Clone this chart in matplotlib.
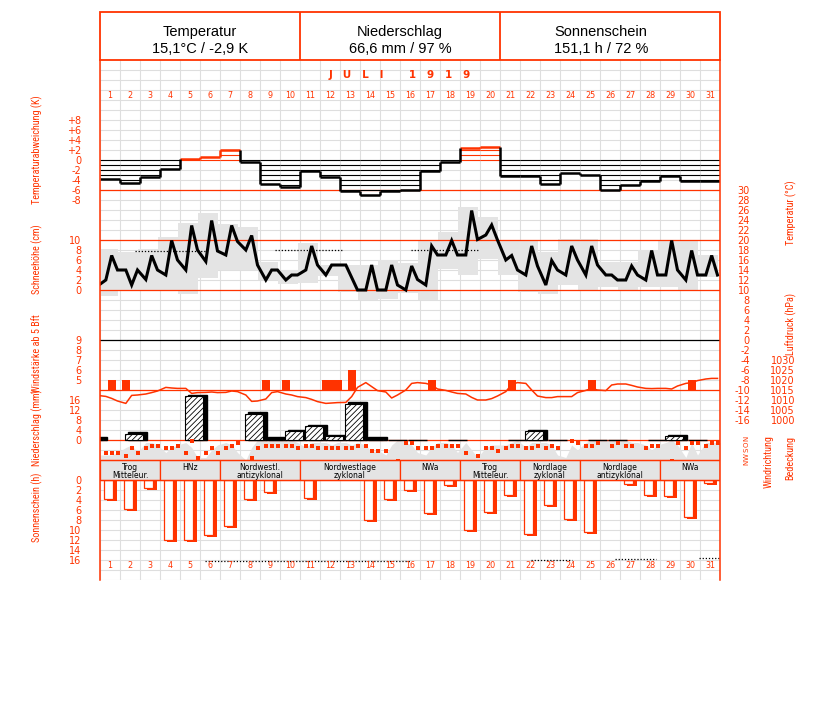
"""Monthly weather sheet for July 1919 (temperature, pressure, rain, sunshine)."""

import matplotlib

matplotlib.use("Agg")
import matplotlib.pyplot as plt
import numpy as np
from matplotlib import font_manager

# --- data ------------------------------------------------------------------
DAYS = np.arange(1, 32)
OBS_HOURS = np.array([7, 14, 21])

HEADER_TITLES = ["Temperatur", "Niederschlag", "Sonnenschein"]
HEADER_VALUES = ["15,1°C / -2,9 K", "66,6 mm / 97 %", "151,1 h / 72 %"]

# daily temperature anomaly (K)
TEMP_ANOMALY = [-3.7, -4.5, -3.3, -1.7, 0.3, 0.7, 2.0, -0.4, -4.7, -5.3,
                -2.1, -3.3, -6.1, -7.0, -6.2, -6.0, -2.1, -0.4, 2.5, 2.7,
                -3.2, -3.2, -4.7, -2.5, -2.9, -5.9, -5.0, -4.1, -3.1, -4.1,
                -4.2]

# air temperature at 7, 14 and 21 h (°C); the first value is 30 June, 21 h
TEMP_PREV_EVENING = 10.8
TEMP_OBS = [12.0, 16.9, 14.0,  14.0, 11.0, 14.0,  12.1, 16.9, 14.0,
            13.0, 19.9, 16.0,  14.0, 22.9, 18.0,  15.7, 23.9, 17.8,
            17.0, 22.9, 19.7,  18.0, 20.9, 15.0,  12.0, 14.0, 14.0,
            12.0, 13.0, 13.0,  14.0, 18.8, 15.0,  13.0, 15.0, 15.0,
            15.0, 12.5, 10.0,  10.0, 15.0, 10.0,  10.0, 15.0, 11.0,
            10.0, 14.8, 12.1,  11.0, 18.8, 17.0,  17.0, 19.9, 17.0,
            17.0, 25.9, 20.1,  21.0, 23.0, 20.0,  16.0, 16.9, 14.0,
            13.0, 18.8, 14.8,  11.0, 15.9, 14.0,  13.0, 18.8, 16.0,
            13.0, 18.8, 15.0,  13.0, 13.0, 12.0,  12.0, 14.8, 13.0,
            12.0, 17.9, 13.0,  13.0, 19.9, 14.0,  12.0, 17.9, 13.0,
            13.0, 16.9, 13.0]
TEMP_MAX = [18.3, 17.7, 18.3, 20.7, 23.5, 25.5, 23.3, 22.7, 15.7, 14.0,
            19.5, 15.0, 15.0, 15.0, 16.0, 15.5, 20.0, 21.7, 26.7, 24.7,
            20.0, 20.0, 17.7, 20.3, 20.3, 15.7, 15.7, 18.0, 20.0, 20.0,
            17.0]
TEMP_MIN = [8.8, 10.0, 10.0, 10.0, 9.2, 12.5, 14.0, 14.0, 12.0, 11.2,
            11.5, 12.8, 9.7, 8.1, 8.3, 9.5, 8.0, 14.3, 13.0, 16.3,
            13.0, 9.7, 9.3, 11.0, 10.0, 10.7, 10.0, 10.7, 10.7, 10.0,
            12.7]
TEMP_DOTTED_START = [1.75, 8.75, 15.53]
TEMP_DOTTED_END = [5.25, 12.17, 18.92]
TEMP_DOTTED_VALUE = [17.8, 18.0, 18.1]

# air pressure at 7, 14 and 21 h (hPa)
PRESSURE_PREV_EVENING = 1012.3
PRESSURE = [1011.8, 1010.8, 1009.5,  1008.3, 1012.3, 1012.5,
            1013.0, 1013.7, 1014.5,  1016.3, 1016.0, 1015.8,
            1015.8, 1013.3, 1013.7,  1013.8, 1014.0, 1013.7,
            1013.8, 1014.5, 1014.2,  1012.5, 1009.3, 1009.5,
            1010.5, 1013.7, 1014.2,  1013.0, 1012.5, 1011.7,
            1011.2, 1010.3, 1009.2,  1008.3, 1008.5, 1008.7,
            1008.8, 1011.7, 1016.3,  1018.7, 1016.7, 1014.7,
            1014.0, 1011.0, 1012.5,  1015.0, 1018.3, 1018.7,
            1018.3, 1017.5, 1015.5,  1014.8, 1014.0, 1013.3,
            1013.0, 1011.3, 1010.0,  1010.0, 1010.7, 1012.0,
            1014.2, 1017.8, 1018.7,  1018.3, 1015.0, 1012.0,
            1011.2, 1011.2, 1011.7,  1011.7, 1011.7, 1013.7,
            1014.8, 1015.8, 1015.0,  1014.7, 1017.5, 1018.0,
            1018.0, 1017.3, 1016.5,  1015.8, 1015.7, 1015.8,
            1015.8, 1015.5, 1017.0,  1018.3, 1018.7, 1019.7,
            1020.5, 1020.8, 1020.8]

# wind force of 5 Bft and more (day, observation index, Bft)
WIND_DAY = [1, 2, 9, 10, 12, 12, 12, 13, 17, 21, 25, 30]
WIND_OBS = [1, 0, 0, 0, 0, 1, 2, 1, 1, 1, 1, 1]
WIND_BFT = [5, 5, 5, 5, 5, 5, 5, 6, 5, 5, 5, 5]

# precipitation (mm), index 0 is 30 June
PRECIP_DAY = np.arange(0, 32)
PRECIP = [1.0, 0, 3.1, 0, 0, 18.0, 0, 0, 11.0, 1.1, 4.0, 6.0, 2.0, 15.0,
          1.1, 0.1, 0.1, 0, 0.1, 0, 0, 0.1, 4.0, 0.1, 0, 0.1, 0.1, 0, 0.1,
          2.0, 0.1, 0]

# wind direction (degrees) and cloud cover (octas) at 7, 14 and 21 h
nan = np.nan
WIND_DIR = [220, 220, 220,  270, 145, 220,  145, 120, 120,  145, 145, 120,
            220, 45, 305,  220, 145, 220,  145, 120, 70,  nan, 295, 145,
            120, 120, 120,  120, 120, 145,  120, 120, 145,  145, 145, 145,
            145, 145, 120,  120, 195, 195,  195, nan, 345,  70, 70, 145,
            145, 145, 120,  120, 120, 120,  220, nan, 270,  145, 145, 195,
            145, 120, 120,  145, 145, 120,  145, 120, 145,  nan, 45, 70,
            120, 120, 70,  nan, 120, 70,  120, 120, nan,  145, 120, 120,
            nan, 345, 70,  145, 70, 70,  120, 70, 70]
CLOUDS = [2, 2, 3,  5, 6, 3,  7, 7, 6,  3, 5, 6,  7, 5, 1,  1, 4, 6,
          7, 6, 3,  0, 5, 8,  8, 8, 8,  8, 8, 7,  5, 7, 7,  7, 6, 7,
          7, 6, 7,  6, 3, 4,  2, 6, 8,  7, 6, 3,  2, 5, 7,  7, 6, 3,
          7, 4, 1,  5, 6, 6,  6, 7, 8,  5, 7, 7,  7, 6, 2,  1, 6, 4,
          7, 8, 8,  8, 8, 8,  8, 7, 7,  6, 4, 6,  7, 8, 6,  1, 7, 2,
          7, 7, 7]

# sunshine duration (h)
SUNSHINE = [3.7, 5.7, 1.5, 12.0, 11.9, 11.0, 9.1, 3.7, 2.3, 0, 3.5, 0, 0,
            8.0, 3.7, 2.0, 6.5, 1.0, 10.0, 6.3, 3.0, 10.7, 5.0, 7.7, 10.4,
            0, 0.8, 3.0, 3.2, 7.3, 0.5]
SUN_DOTTED_START = [5.25, 21.55, 25.75, 29.95]
SUN_DOTTED_END = [15.5, 23.6, 27.8, 31.0]
SUN_DOTTED_VALUE = [16.2, 16.0, 15.8, 15.5]

WEATHER_LABELS = ["Trog\nMitteleur.", "HNz", "Nordwestl.\nantizyklonal",
                  "Nordwestlage\nzyklonal", "NWa", "Trog\nMitteleur.",
                  "Nordlage\nzyklonal", "Nordlage\nantizyklonal", "NWa"]
WEATHER_FIRST = [1, 4, 7, 11, 16, 19, 22, 25, 29]
WEATHER_LAST = [3, 6, 10, 15, 18, 21, 24, 28, 31]

# --- layout ---------------------------------------------------------------
W, H = 827, 702
LEFT, RIGHT, TOP, BOTTOM = 100, 720, 60, 580
RED = "#ff3300"
GRID = "#dedede"
SHADE = "#e4e4e4"


def narrow_font():
    """A condensed face for the axis titles, or a smaller plain one."""
    for name in ("Liberation Sans Narrow", "Roboto Condensed",
                 "Open Sans Condensed"):
        try:
            font_manager.findfont(name, fallback_to_default=False)
            return name, 7.3
        except ValueError:
            pass
    return "DejaVu Sans", 5.6


def overlay(fig, row, value, px_per_unit):
    """Transparent axes over the plot frame with `value` on pixel row `row`."""
    ax = fig.add_axes([LEFT / W, 1 - BOTTOM / H,
                       (RIGHT - LEFT) / W, (BOTTOM - TOP) / H])
    ax.set_xlim(0, 31)
    ax.set_ylim(value - (BOTTOM - row) / px_per_unit,
                value + (row - TOP) / px_per_unit)
    ax.patch.set_visible(False)
    for spine in ax.spines.values():
        spine.set_visible(False)
    ax.set_xticks([])
    ax.set_yticks([])
    return ax


def label_axis(ax, values, labels, side="left", pad=13.5, size=7, **kw):
    """Red tick labels without tick marks."""
    ax.set_yticks(values, labels)
    ax.tick_params(axis="y", length=0, labelsize=size, labelcolor=RED,
                   pad=pad, left=False, right=False,
                   labelleft=side == "left", labelright=side == "right", **kw)
    if side == "right" and "labelrotation" not in kw:
        for tick in ax.yaxis.get_major_ticks():
            tick.label2.set_horizontalalignment("right")


def main():
    plt.rcParams["hatch.linewidth"] = 0.6
    fig = plt.figure(figsize=(W / 100, H / 100), dpi=100)
    obs_x = ((DAYS[:, None] - 1) + OBS_HOURS[None, :] / 24).ravel()
    prev_x = -1 + OBS_HOURS[-1] / 24
    title_font, title_size = narrow_font()

    # header and axis titles, drawn above everything else
    canvas = fig.add_axes([0, 0, 1, 1])
    canvas.set_zorder(10)
    canvas.set_xlim(0, W)
    canvas.set_ylim(H, 0)
    canvas.axis("off")
    canvas.add_patch(plt.Rectangle((LEFT, 12), RIGHT - LEFT, TOP - 12,
                                   fill=False, ec=RED, lw=1.3))
    canvas.vlines([300, 500], 12, TOP, color=RED, lw=1.3)
    for cx, title, value in zip([200, 400, 601], HEADER_TITLES, HEADER_VALUES):
        canvas.text(cx, 32, title, ha="center", va="center", fontsize=10.5,
                    family="Liberation Sans")
        canvas.text(cx, 49, value, ha="center", va="center", fontsize=10.5,
                    family="Liberation Sans")
    canvas.text(400, 75, "J   U   L   I       1   9   1   9",
                ha="center", va="center", color=RED, fontsize=7.5,
                fontweight="bold")
    for y, text in [(150, "Temperaturabweichung (K)"), (259, "Schneehöhe (cm)"),
                    (354, "Windstärke ab 5 Bft"), (428, "Niederschlag (mm)"),
                    (507, "Sonnenschein (h)")]:
        canvas.text(37, y, text, rotation=90, ha="center", va="center",
                    color=RED, fontsize=title_size, family=title_font)
    for x, y, text in [(791, 213, "Temperatur (°C)"),
                       (791, 324, "Luftdruck (hPa)"),
                       (769, 462, "Windrichtung"), (790, 458, "Bedeckung")]:
        canvas.text(x, y, text, rotation=90, ha="center", va="center",
                    color=RED, fontsize=title_size, family=title_font)

    # background grid (pixel rows)
    base = overlay(fig, 0, 0, -1)
    base.vlines(np.arange(0, 32), TOP, BOTTOM, color=GRID, lw=0.8)
    base.hlines(np.arange(TOP + 10, BOTTOM + 1, 10), 0, 31, color=GRID, lw=0.8)

    # air temperature
    temp = overlay(fig, 290, 10, 5)
    temp.bar(DAYS - 1.125, np.subtract(TEMP_MAX, TEMP_MIN), bottom=TEMP_MIN,
             width=1, align="edge", color=SHADE, lw=0, zorder=1)
    temp.axhline(30, color=RED, lw=0.9, zorder=2)
    temp.axhline(20, color=RED, lw=0.9, zorder=2)
    temp.axhline(10, color=RED, lw=0.9, zorder=2)
    temp.axhline(0, color="black", lw=0.9, zorder=2)
    temp.hlines(TEMP_DOTTED_VALUE, TEMP_DOTTED_START, TEMP_DOTTED_END,
                color="black", lw=0.9, linestyles=(0, (1, 1.5)), zorder=3)
    temp.plot(np.r_[prev_x, obs_x], np.r_[TEMP_PREV_EVENING, TEMP_OBS],
              color="black", lw=2.2, zorder=4, solid_joinstyle="miter")
    label_axis(temp, np.arange(30, -17, -2),
               [str(v) for v in range(30, -17, -2)], side="right", pad=21.6)

    # temperature anomaly, hatched steps
    anom = overlay(fig, 160, 0, 5)
    for day, value in zip(DAYS, TEMP_ANOMALY):
        color = RED if value > 0 else "black"
        sign = 1 if value > 0 else -1
        levels = sign * np.arange(0, int(abs(value)) + 1)
        anom.hlines(levels, day - 1, day, color=color, lw=0.8)
        anom.hlines(value, day - 1, day, color=color, lw=1.8)
    for day in DAYS[:-1]:
        a, b = TEMP_ANOMALY[day - 1], TEMP_ANOMALY[day]
        color = RED if min(a, b) > 0 else "black"
        anom.vlines(day, min(a, b), max(a, b), color=color, lw=1.8)
    label_axis(anom, [8, 6, 4, 2, 0, -2, -4, -6, -8],
               ["+8", "+6", "+4", "+2", "0", "-2", "-4", "-6", "-8"])

    snow = overlay(fig, 290, 0, 5)
    label_axis(snow, np.arange(0, 11, 2), [str(v) for v in range(0, 11, 2)])

    # wind force
    wind = overlay(fig, 390, 4, 10)
    wind_x = np.array(WIND_DAY) - 1 + OBS_HOURS[WIND_OBS] / 24
    wind.bar(wind_x, np.array(WIND_BFT) - 4, bottom=4, width=0.4,
             color=RED, lw=0)
    label_axis(wind, [5, 6, 7, 8, 9], ["5", "6", "7", "8", "9"])

    # air pressure
    pres = overlay(fig, 390, 1015, 2)
    pres.axhline(1015, color=RED, lw=0.9)
    pres.plot(np.r_[prev_x, obs_x], np.r_[PRESSURE_PREV_EVENING, PRESSURE],
              color=RED, lw=1.1)
    label_axis(pres, np.arange(1000, 1031, 5),
               [str(v) for v in range(1000, 1031, 5)], side="right", pad=54)

    # cloud cover
    cloud = overlay(fig, 460, 0, 2.5)
    cloud.fill_between(np.r_[0, obs_x, 31],
                       np.r_[CLOUDS[0], CLOUDS, CLOUDS[-1]],
                       color=SHADE, lw=0)

    # precipitation: shadowed, hatched bars
    rain = overlay(fig, 440, 0, 2.5)
    rain.axhline(0, color=RED, lw=0.9, zorder=1)
    precip = np.array(PRECIP)
    start = PRECIP_DAY - 0.75
    wet = precip > 0
    rain.bar(start[wet] + 0.17, precip[wet], width=0.92, align="edge",
             color="black", ec="black", lw=1.0, zorder=2)
    big = precip >= 1
    rain.bar(start[big], precip[big] - 0.6, width=0.92, align="edge",
             facecolor="white", ec="black", hatch="//////", lw=0.8, zorder=3)
    label_axis(rain, [0, 4, 8, 12, 16], ["0", "4", "8", "12", "16"])

    # wind direction
    wdir = overlay(fig, 438, 0, -1 / 15)
    wdir.plot(obs_x, WIND_DIR, "s", color=RED, ms=2.3, mew=0)
    label_axis(wdir, [0, 90, 180, 270, 360], ["N", "O", "S", "W", "N"],
               side="right", pad=17, size=5, labelrotation=90)

    # sunshine, hanging bars
    sun = overlay(fig, 480, 0, -5)
    sunshine = np.array(SUNSHINE)
    sunny = sunshine > 0
    sun.bar(DAYS[sunny] - 1 + 0.37, sunshine[sunny] + 0.4, width=0.47,
            align="edge", color=RED, lw=0)
    sun.bar(DAYS[sunny] - 1 + 0.2, sunshine[sunny], width=0.47, align="edge",
            facecolor="white", ec=RED, lw=0.9)
    sun.hlines(SUN_DOTTED_VALUE, SUN_DOTTED_START, SUN_DOTTED_END,
               color="black", lw=0.9, linestyles=(0, (1, 1.5)))
    label_axis(sun, np.arange(0, 17, 2), [str(v) for v in range(0, 17, 2)])

    # frame, weather types, day numbers (pixel rows)
    frame = overlay(fig, 0, 0, -1)
    for side in ("left", "right"):
        frame.spines[side].set_visible(True)
        frame.spines[side].set_color(RED)
        frame.spines[side].set_linewidth(1.1)
    for label, first, last in zip(WEATHER_LABELS, WEATHER_FIRST, WEATHER_LAST):
        frame.add_patch(plt.Rectangle((first - 1, 460), last - first + 1, 20,
                                      facecolor=SHADE, ec=RED, lw=0.9))
        frame.text((first - 1 + last) / 2, 462.5, label, ha="center",
                   va="top", fontsize=5.5, linespacing=0.95)
    frame.hlines([460, 480], 0, 31, color=RED, lw=0.9)
    for day in DAYS:
        for row in (95, 565):
            frame.text(day - 0.5, row, str(day), ha="center", va="center",
                       color=RED, fontsize=5.8)

    fig.savefig("out.png", dpi=100)
    plt.close(fig)


if __name__ == "__main__":
    main()
